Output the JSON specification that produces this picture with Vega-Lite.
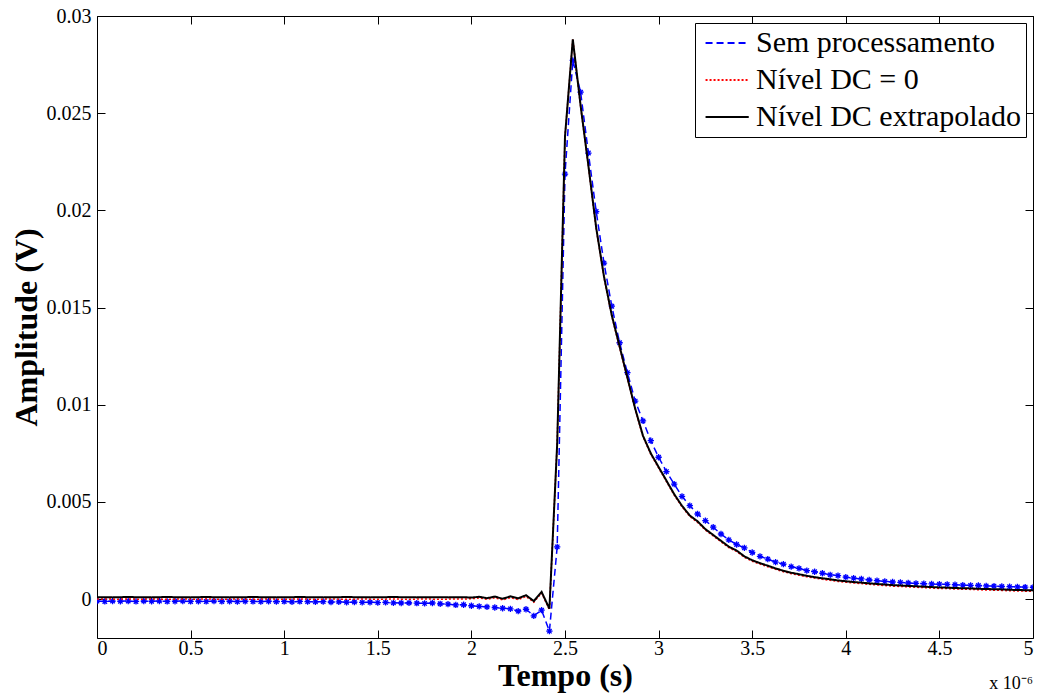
{
  "$schema": "https://vega.github.io/schema/vega-lite/v6.json",
  "width": 936,
  "height": 622,
  "autosize": {"type": "none"},
  "padding": {"left": 97, "top": 16, "right": 8, "bottom": 59},
  "background": "white",
  "title": {"text": "x 10⁻⁶", "orient": "bottom", "anchor": "end", "frame": "group", "font": "Liberation Serif", "fontSize": 18, "fontWeight": "normal", "color": "black", "offset": -16},
  "config": {
    "view": {"stroke": "black", "strokeWidth": 1},
    "axis": {"labelFont": "Liberation Serif", "labelFontSize": 20, "labelColor": "black", "titleFont": "Liberation Serif", "titleFontSize": 32, "titleFontWeight": "bold", "titleColor": "black", "tickColor": "black", "tickSize": -8, "tickWidth": 1, "domain": false, "grid": false},
    "legend": {"orient": "top-right", "offset": 7, "padding": 5, "strokeColor": "black", "fillColor": "white", "labelFont": "Liberation Serif", "labelFontSize": 30, "labelColor": "black", "labelLimit": 400, "symbolType": "M-0.7,0L2.5,0", "symbolSize": 729, "symbolStrokeWidth": 2, "labelOffset": 26, "rowPadding": 7, "cornerRadius": 0, "strokeWidth": 1}
  },
  "data": {"values": [
    {"t":0,"sem":-0.0001,"dc0":0,"dcx":0.0001},
    {"t":0.0417,"sem":-0.00012,"dc0":0.00001,"dcx":0.0001},
    {"t":0.0833,"sem":-0.0001,"dc0":0,"dcx":0.00009},
    {"t":0.125,"sem":-0.00011,"dc0":0,"dcx":0.0001},
    {"t":0.1667,"sem":-0.0001,"dc0":0.00001,"dcx":0.00011},
    {"t":0.2083,"sem":-0.00012,"dc0":0,"dcx":0.0001},
    {"t":0.25,"sem":-0.0001,"dc0":0,"dcx":0.0001},
    {"t":0.2917,"sem":-0.00011,"dc0":0.00001,"dcx":0.00009},
    {"t":0.3333,"sem":-0.0001,"dc0":0,"dcx":0.0001},
    {"t":0.375,"sem":-0.00012,"dc0":0,"dcx":0.00011},
    {"t":0.4167,"sem":-0.00011,"dc0":0,"dcx":0.0001},
    {"t":0.4583,"sem":-0.0001,"dc0":0.00001,"dcx":0.0001},
    {"t":0.5,"sem":-0.00012,"dc0":0,"dcx":0.00009},
    {"t":0.5417,"sem":-0.00011,"dc0":0,"dcx":0.0001},
    {"t":0.5833,"sem":-0.00012,"dc0":0.00001,"dcx":0.00011},
    {"t":0.625,"sem":-0.0001,"dc0":0,"dcx":0.0001},
    {"t":0.6667,"sem":-0.00012,"dc0":0,"dcx":0.0001},
    {"t":0.7083,"sem":-0.00011,"dc0":0,"dcx":0.00009},
    {"t":0.75,"sem":-0.00013,"dc0":0.00001,"dcx":0.0001},
    {"t":0.7917,"sem":-0.00011,"dc0":0,"dcx":0.0001},
    {"t":0.8333,"sem":-0.00012,"dc0":0,"dcx":0.00011},
    {"t":0.875,"sem":-0.00013,"dc0":0,"dcx":0.0001},
    {"t":0.9167,"sem":-0.00011,"dc0":0.00001,"dcx":0.0001},
    {"t":0.9583,"sem":-0.00013,"dc0":0,"dcx":0.00009},
    {"t":1,"sem":-0.00012,"dc0":0,"dcx":0.0001},
    {"t":1.0417,"sem":-0.00014,"dc0":0,"dcx":0.0001},
    {"t":1.0833,"sem":-0.00012,"dc0":0.00001,"dcx":0.00011},
    {"t":1.125,"sem":-0.00013,"dc0":0,"dcx":0.0001},
    {"t":1.1667,"sem":-0.00014,"dc0":0,"dcx":0.0001},
    {"t":1.2083,"sem":-0.00013,"dc0":0,"dcx":0.00009},
    {"t":1.25,"sem":-0.00015,"dc0":0.00001,"dcx":0.0001},
    {"t":1.2917,"sem":-0.00014,"dc0":0,"dcx":0.0001},
    {"t":1.3333,"sem":-0.00016,"dc0":0,"dcx":0.00011},
    {"t":1.375,"sem":-0.00015,"dc0":0,"dcx":0.0001},
    {"t":1.4167,"sem":-0.00017,"dc0":0.00001,"dcx":0.0001},
    {"t":1.4583,"sem":-0.00016,"dc0":0,"dcx":0.00009},
    {"t":1.5,"sem":-0.00018,"dc0":0,"dcx":0.0001},
    {"t":1.5417,"sem":-0.00017,"dc0":0,"dcx":0.0001},
    {"t":1.5833,"sem":-0.00019,"dc0":0.00001,"dcx":0.00011},
    {"t":1.625,"sem":-0.0002,"dc0":0,"dcx":0.0001},
    {"t":1.6667,"sem":-0.00019,"dc0":0,"dcx":0.0001},
    {"t":1.7083,"sem":-0.00021,"dc0":0,"dcx":0.00009},
    {"t":1.75,"sem":-0.00022,"dc0":0.00001,"dcx":0.0001},
    {"t":1.7917,"sem":-0.0002,"dc0":0,"dcx":0.0001},
    {"t":1.8333,"sem":-0.00024,"dc0":0,"dcx":0.0001},
    {"t":1.875,"sem":-0.00026,"dc0":0,"dcx":0.00009},
    {"t":1.9167,"sem":-0.0003,"dc0":0.00001,"dcx":0.0001},
    {"t":1.9583,"sem":-0.00029,"dc0":0,"dcx":0.0001},
    {"t":2,"sem":-0.00034,"dc0":0.00002,"dcx":0.00008},
    {"t":2.0417,"sem":-0.00037,"dc0":0.00006,"dcx":0.00012},
    {"t":2.0833,"sem":-0.0004,"dc0":-0.00001,"dcx":0.00005},
    {"t":2.125,"sem":-0.00043,"dc0":0.00007,"dcx":0.00013},
    {"t":2.1667,"sem":-0.00047,"dc0":-0.00004,"dcx":0.00002},
    {"t":2.2083,"sem":-0.0005,"dc0":0.00008,"dcx":0.00014},
    {"t":2.25,"sem":-0.00062,"dc0":-0.00002,"dcx":0.00004},
    {"t":2.2917,"sem":-0.00052,"dc0":0.00014,"dcx":0.0002},
    {"t":2.3333,"sem":-0.00086,"dc0":-0.00016,"dcx":-0.0001},
    {"t":2.375,"sem":-0.00057,"dc0":0.00031,"dcx":0.00037},
    {"t":2.4167,"sem":-0.00165,"dc0":-0.00055,"dcx":-0.00049},
    {"t":2.4583,"sem":0.00269,"dc0":0.008,"dcx":0.008},
    {"t":2.5,"sem":0.02187,"dc0":0.0238,"dcx":0.0238},
    {"t":2.5417,"sem":0.02772,"dc0":0.0288,"dcx":0.0288},
    {"t":2.5833,"sem":0.02608,"dc0":0.02535,"dcx":0.0254},
    {"t":2.625,"sem":0.02295,"dc0":0.02225,"dcx":0.0223},
    {"t":2.6667,"sem":0.01994,"dc0":0.01905,"dcx":0.0191},
    {"t":2.7083,"sem":0.01729,"dc0":0.01655,"dcx":0.0166},
    {"t":2.75,"sem":0.01507,"dc0":0.01455,"dcx":0.0146},
    {"t":2.7917,"sem":0.01319,"dc0":0.01295,"dcx":0.013},
    {"t":2.8333,"sem":0.01165,"dc0":0.01135,"dcx":0.0114},
    {"t":2.875,"sem":0.01019,"dc0":0.00975,"dcx":0.0098},
    {"t":2.9167,"sem":0.00917,"dc0":0.00835,"dcx":0.0084},
    {"t":2.9583,"sem":0.00815,"dc0":0.00745,"dcx":0.0075},
    {"t":3,"sem":0.0073,"dc0":0.00675,"dcx":0.0068},
    {"t":3.0417,"sem":0.00656,"dc0":0.00605,"dcx":0.0061},
    {"t":3.0833,"sem":0.00592,"dc0":0.00535,"dcx":0.0054},
    {"t":3.125,"sem":0.00529,"dc0":0.00475,"dcx":0.0048},
    {"t":3.1667,"sem":0.00481,"dc0":0.00425,"dcx":0.0043},
    {"t":3.2083,"sem":0.00438,"dc0":0.00395,"dcx":0.004},
    {"t":3.25,"sem":0.00404,"dc0":0.00355,"dcx":0.0036},
    {"t":3.2917,"sem":0.0037,"dc0":0.00325,"dcx":0.0033},
    {"t":3.3333,"sem":0.00335,"dc0":0.00295,"dcx":0.003},
    {"t":3.375,"sem":0.00305,"dc0":0.00265,"dcx":0.0027},
    {"t":3.4167,"sem":0.00281,"dc0":0.00245,"dcx":0.0025},
    {"t":3.4583,"sem":0.00264,"dc0":0.00215,"dcx":0.0022},
    {"t":3.5,"sem":0.0024,"dc0":0.00195,"dcx":0.002},
    {"t":3.5417,"sem":0.0022,"dc0":0.0018,"dcx":0.00185},
    {"t":3.5833,"sem":0.00206,"dc0":0.00167,"dcx":0.00172},
    {"t":3.625,"sem":0.0019,"dc0":0.00153,"dcx":0.00158},
    {"t":3.6667,"sem":0.0018,"dc0":0.00141,"dcx":0.00146},
    {"t":3.7083,"sem":0.00167,"dc0":0.00131,"dcx":0.00136},
    {"t":3.75,"sem":0.00158,"dc0":0.00123,"dcx":0.00128},
    {"t":3.7917,"sem":0.00147,"dc0":0.00115,"dcx":0.0012},
    {"t":3.8333,"sem":0.00141,"dc0":0.00108,"dcx":0.00113},
    {"t":3.875,"sem":0.00133,"dc0":0.00102,"dcx":0.00107},
    {"t":3.9167,"sem":0.00125,"dc0":0.00097,"dcx":0.00102},
    {"t":3.9583,"sem":0.00121,"dc0":0.00091,"dcx":0.00096},
    {"t":4,"sem":0.00113,"dc0":0.00087,"dcx":0.00092},
    {"t":4.0417,"sem":0.00108,"dc0":0.00083,"dcx":0.00088},
    {"t":4.0833,"sem":0.00104,"dc0":0.0008,"dcx":0.00085},
    {"t":4.125,"sem":0.00099,"dc0":0.00076,"dcx":0.00081},
    {"t":4.1667,"sem":0.00095,"dc0":0.00073,"dcx":0.00078},
    {"t":4.2083,"sem":0.00091,"dc0":0.0007,"dcx":0.00075},
    {"t":4.25,"sem":0.00088,"dc0":0.00067,"dcx":0.00072},
    {"t":4.2917,"sem":0.00086,"dc0":0.00065,"dcx":0.0007},
    {"t":4.3333,"sem":0.00083,"dc0":0.00063,"dcx":0.00068},
    {"t":4.375,"sem":0.00081,"dc0":0.00061,"dcx":0.00066},
    {"t":4.4167,"sem":0.0008,"dc0":0.00059,"dcx":0.00064},
    {"t":4.4583,"sem":0.00078,"dc0":0.00057,"dcx":0.00062},
    {"t":4.5,"sem":0.00077,"dc0":0.00055,"dcx":0.0006},
    {"t":4.5417,"sem":0.00076,"dc0":0.00054,"dcx":0.00059},
    {"t":4.5833,"sem":0.00074,"dc0":0.00052,"dcx":0.00057},
    {"t":4.625,"sem":0.00072,"dc0":0.00051,"dcx":0.00056},
    {"t":4.6667,"sem":0.00071,"dc0":0.0005,"dcx":0.00055},
    {"t":4.7083,"sem":0.0007,"dc0":0.00048,"dcx":0.00053},
    {"t":4.75,"sem":0.00068,"dc0":0.00047,"dcx":0.00052},
    {"t":4.7917,"sem":0.00067,"dc0":0.00046,"dcx":0.00051},
    {"t":4.8333,"sem":0.00065,"dc0":0.00045,"dcx":0.0005},
    {"t":4.875,"sem":0.00064,"dc0":0.00043,"dcx":0.00048},
    {"t":4.9167,"sem":0.00063,"dc0":0.00042,"dcx":0.00047},
    {"t":4.9583,"sem":0.00062,"dc0":0.00041,"dcx":0.00046},
    {"t":5,"sem":0.0006,"dc0":0.0004,"dcx":0.00045}
  ]},
  "transform": [{"fold": ["sem", "dc0", "dcx"], "as": ["serie", "v"]}],
  "layer": [
    {
      "transform": [{"filter": "datum.serie == 'sem'"}],
      "mark": {"type": "line", "strokeWidth": 1.5, "clip": true},
      "encoding": {
        "x": {"field": "t", "type": "quantitative", "scale": {"domain": [0, 5], "nice": false, "zero": false},
              "axis": {"orient": "bottom", "values": [0, 0.5, 1, 1.5, 2, 2.5, 3, 3.5, 4, 4.5, 5], "format": "~g", "title": "Tempo (s)", "labelPadding": 8, "titlePadding": 2}},
        "y": {"field": "v", "type": "quantitative", "scale": {"domain": [-0.002, 0.03], "nice": false, "zero": false},
              "axis": {"orient": "left", "values": [0, 0.005, 0.01, 0.015, 0.02, 0.025, 0.03], "format": "~g", "title": "Amplitude (V)", "labelPadding": 14, "titlePadding": 3}},
        "color": {"field": "serie", "type": "nominal", "scale": {"domain": ["sem", "dc0", "dcx"], "range": ["#0000ff", "#ff0000", "#000000"]},
                  "legend": {"title": null, "labelExpr": "datum.value == 'sem' ? 'Sem processamento' : datum.value == 'dc0' ? 'Nível DC = 0' : 'Nível DC extrapolado'"}},
        "strokeDash": {"field": "serie", "type": "nominal", "scale": {"domain": ["sem", "dc0", "dcx"], "range": [[7, 4], [2, 2], [1, 0]]},
                  "legend": {"title": null, "labelExpr": "datum.value == 'sem' ? 'Sem processamento' : datum.value == 'dc0' ? 'Nível DC = 0' : 'Nível DC extrapolado'"}}
      }
    },
    {
      "transform": [{"filter": "datum.serie == 'sem'"}],
      "mark": {"type": "point", "shape": "M-1,0L1,0M0,-1L0,1M-0.7,-0.7L0.7,0.7M-0.7,0.7L0.7,-0.7", "size": 40, "filled": false, "strokeWidth": 1.3, "color": "#0000ff", "opacity": 1, "clip": true},
      "encoding": {
        "x": {"field": "t", "type": "quantitative", "scale": {"domain": [0, 5], "nice": false, "zero": false},
              "axis": {"orient": "top", "values": [0, 0.5, 1, 1.5, 2, 2.5, 3, 3.5, 4, 4.5, 5], "labels": false, "title": null}},
        "y": {"field": "v", "type": "quantitative", "scale": {"domain": [-0.002, 0.03], "nice": false, "zero": false},
              "axis": {"orient": "right", "values": [0, 0.005, 0.01, 0.015, 0.02, 0.025, 0.03], "labels": false, "title": null}}
      }
    },
    {
      "transform": [{"filter": "datum.serie == 'dc0'"}],
      "mark": {"type": "line", "strokeWidth": 1.5, "clip": true},
      "encoding": {
        "x": {"field": "t", "type": "quantitative", "scale": {"domain": [0, 5], "nice": false, "zero": false}, "axis": null},
        "y": {"field": "v", "type": "quantitative", "scale": {"domain": [-0.002, 0.03], "nice": false, "zero": false}, "axis": null},
        "color": {"field": "serie", "type": "nominal", "scale": {"domain": ["sem", "dc0", "dcx"], "range": ["#0000ff", "#ff0000", "#000000"]},
                  "legend": {"title": null, "labelExpr": "datum.value == 'sem' ? 'Sem processamento' : datum.value == 'dc0' ? 'Nível DC = 0' : 'Nível DC extrapolado'"}},
        "strokeDash": {"field": "serie", "type": "nominal", "scale": {"domain": ["sem", "dc0", "dcx"], "range": [[7, 4], [2, 2], [1, 0]]},
                  "legend": {"title": null, "labelExpr": "datum.value == 'sem' ? 'Sem processamento' : datum.value == 'dc0' ? 'Nível DC = 0' : 'Nível DC extrapolado'"}}
      }
    },
    {
      "transform": [{"filter": "datum.serie == 'dcx'"}],
      "mark": {"type": "line", "strokeWidth": 2, "clip": true},
      "encoding": {
        "x": {"field": "t", "type": "quantitative", "scale": {"domain": [0, 5], "nice": false, "zero": false}, "axis": null},
        "y": {"field": "v", "type": "quantitative", "scale": {"domain": [-0.002, 0.03], "nice": false, "zero": false}, "axis": null},
        "color": {"field": "serie", "type": "nominal", "scale": {"domain": ["sem", "dc0", "dcx"], "range": ["#0000ff", "#ff0000", "#000000"]},
                  "legend": {"title": null, "labelExpr": "datum.value == 'sem' ? 'Sem processamento' : datum.value == 'dc0' ? 'Nível DC = 0' : 'Nível DC extrapolado'"}},
        "strokeDash": {"field": "serie", "type": "nominal", "scale": {"domain": ["sem", "dc0", "dcx"], "range": [[7, 4], [2, 2], [1, 0]]},
                  "legend": {"title": null, "labelExpr": "datum.value == 'sem' ? 'Sem processamento' : datum.value == 'dc0' ? 'Nível DC = 0' : 'Nível DC extrapolado'"}}
      }
    }
  ],
  "resolve": {"axis": {"x": "independent", "y": "independent"}}
}
